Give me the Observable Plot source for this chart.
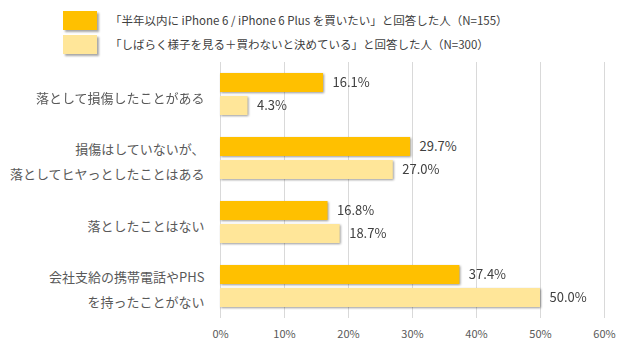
<!DOCTYPE html>
<html>
<head>
<meta charset="utf-8">
<script src="https://cdn.jsdelivr.net/npm/d3@7"></script>
<script src="https://cdn.jsdelivr.net/npm/@observablehq/plot@0.6"></script>
<style>
  html, body { margin: 0; padding: 0; background: #fff; }
  body { width: 640px; height: 355px; overflow: hidden; font-family: "Noto Sans CJK JP", sans-serif; }
  #legend { position: relative; height: 60px; }
  .sw { position: absolute; left: 63px; width: 34px; height: 19px; box-shadow: 2px 2px 2px rgba(0,0,0,0.35); }
  .lt { position: absolute; left: 110px; height: 19px; line-height: 19px; font-size: 11.5px; color: #404040; white-space: nowrap; }
</style>
</head>
<body>
<div id="legend"></div>
<div id="chart"></div>
<script>
const categories = [
  "落として損傷したことがある",
  "損傷はしていないが、\n落としてヒヤっとしたことはある",
  "落としたことはない",
  "会社支給の携帯電話やPHS\nを持ったことがない"
];
const seriesNames = [
  "「半年以内に iPhone 6 / iPhone 6 Plus を買いたい」と回答した人（N=155）",
  "「しばらく様子を見る＋買わないと決めている」と回答した人（N=300）"
];
const seriesColors = ["#FFC000", "#FFE699"];
const buyValues = [16.1, 29.7, 16.8, 37.4];
const waitValues = [4.3, 27.0, 18.7, 50.0];
const xTicks = [0, 10, 20, 30, 40, 50, 60];

const data = [];
categories.forEach((c, i) => {
  data.push({category: c, series: seriesNames[0], value: buyValues[i]});
  data.push({category: c, series: seriesNames[1], value: waitValues[i]});
});

// legend
const legend = document.getElementById("legend");
seriesNames.forEach((s, i) => {
  const top = [11, 35][i];
  const sw = document.createElement("div");
  sw.className = "sw";
  sw.style.top = top + "px";
  sw.style.background = seriesColors[i];
  legend.appendChild(sw);
  const t = document.createElement("div");
  t.className = "lt";
  t.style.top = top + "px";
  t.textContent = s;
  legend.appendChild(t);
});

const plot = Plot.plot({
  width: 640,
  height: 295,
  marginTop: 2,
  marginBottom: 37,
  marginLeft: 220,
  marginRight: 36,
  style: {fontFamily: "'Noto Sans CJK JP', sans-serif", fontSize: "11px", color: "#595959", background: "white"},
  x: {domain: [0, 60], ticks: xTicks, tickFormat: d => d + "%", tickSize: 0, tickPadding: 12, label: null},
  fy: {domain: categories, padding: 0, axis: null, label: null},
  y: {domain: seriesNames, paddingInner: 0.17, paddingOuter: 0.45, axis: null, label: null},
  color: {domain: seriesNames, range: seriesColors},
  marks: [
    Plot.ruleX(xTicks, {x: d => d, stroke: "#d9d9d9", strokeWidth: 1}),
    Plot.barX(data, {fy: "category", y: "series", x: "value", fill: "series"}),
    Plot.text(data, {fy: "category", y: "series", x: "value", text: d => d.value.toFixed(1) + "%",
      textAnchor: "start", dx: 9, fill: "#404040", fontSize: 13}),
    Plot.text(categories, {fy: d => d, text: d => d, frameAnchor: "left", textAnchor: "end",
      dx: -16, lineHeight: 1.92, fontSize: 13, fill: "#595959"})
  ]
});
document.getElementById("chart").appendChild(plot);

// bar shadows
plot.querySelectorAll('g[aria-label="bar"]').forEach(g => {
  g.style.filter = "drop-shadow(1.5px 1.5px 1px rgba(0,0,0,0.4))";
});
// center lines within each right-aligned category label block
plot.querySelectorAll('g[aria-label="text"][text-anchor="end"] text').forEach(t => {
  const spans = t.querySelectorAll("tspan");
  if (spans.length < 2) return;
  let w = 0;
  spans.forEach(s => { w = Math.max(w, s.getComputedTextLength()); });
  t.setAttribute("text-anchor", "middle");
  spans.forEach(s => s.setAttribute("x", -w / 2));
});
</script>
</body>
</html>
